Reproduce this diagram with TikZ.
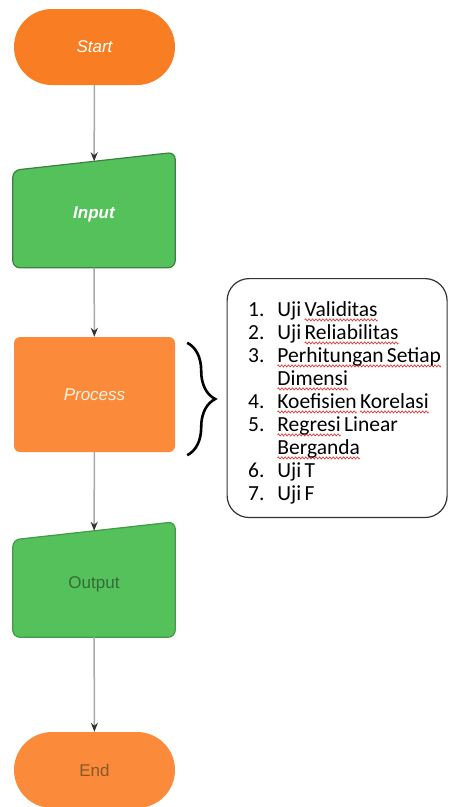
\documentclass[tikz,border=0pt]{standalone}
\usepackage{fontspec}
\setmainfont{Liberation Sans}
\newfontfamily\listfont{Carlito}
\usetikzlibrary{shapes.misc,arrows.meta,backgrounds,decorations.pathreplacing,positioning}
\definecolor{termorange}{HTML}{F97D22}
\definecolor{procorange}{HTML}{FB8B3A}
\definecolor{iogreen}{HTML}{54C15A}
\definecolor{ioborder}{HTML}{3E7F42}
\definecolor{linegray}{HTML}{A8A8A8}
\definecolor{arrowdark}{HTML}{333333}
\definecolor{spellred}{HTML}{E23A3A}
\newcommand{\labelfont}{\fontsize{17}{20}\selectfont}
% red wavy underline
\newsavebox{\wavebox}
\newsavebox{\spellbox}
\newcommand{\spell}[1]{\leavevmode\sbox{\spellbox}{#1}%
  \rlap{\raisebox{-3.8pt}[0pt][0pt]{\hbox to\wd\spellbox{\xleaders\copy\wavebox\hfill}}}\usebox{\spellbox}}

\begin{document}
\sbox{\wavebox}{\begin{pgfpicture}
  \pgfpathrectanglecorners{\pgfpointorigin}{\pgfpoint{3.4pt}{0pt}}\pgfusepath{use as bounding box}
  \pgfpathmoveto{\pgfpointorigin}
  \pgfpathcurveto{\pgfpoint{0.85pt}{1.4pt}}{\pgfpoint{0.85pt}{1.4pt}}{\pgfpoint{1.7pt}{0pt}}
  \pgfpathcurveto{\pgfpoint{2.55pt}{-1.4pt}}{\pgfpoint{2.55pt}{-1.4pt}}{\pgfpoint{3.4pt}{0pt}}
  \pgfsetstrokecolor{spellred}\pgfsetlinewidth{0.7pt}\pgfusepath{stroke}
\end{pgfpicture}}%
\begin{tikzpicture}[x=1pt,y=-1pt,
  terminal/.style={rounded rectangle,fill=#1,minimum width=161pt,minimum height=76pt,inner sep=0pt,font=\labelfont},
  iobox/.style={rectangle,minimum width=162pt,minimum height=106pt,inner sep=0pt,font=\labelfont},
  ioshape/.style={fill=iogreen,draw=ioborder,line width=1.2pt,rounded corners=7pt},
  procbox/.style={rectangle,rounded corners=6pt,fill=procorange,minimum width=161pt,minimum height=115pt,inner sep=0pt,font=\labelfont},
  listbox/.style={rectangle,rounded corners=22pt,draw=black!80,line width=1.2pt,text width=196pt,inner xsep=12pt,inner ysep=10.5pt,align=left},
  flow/.style={draw=linegray,line width=1.5pt,-{Stealth[length=9pt,width=7pt,color=arrowdark]}}]
\useasboundingbox (0,0) rectangle (449,807);
% Define all the nodes.
% Start
\node[terminal=termorange,text=white] (start) at (94.5,47) {\itshape Start};
% Input
\node[iobox,text=white] (input) at (94,214.5) {\bfseries\itshape Input};
% Process
\node[procbox,text=orange!10] (process) at (94.5,394.5) {\itshape Process};
% Steps of the process
\node[listbox,anchor=north west] (steps) at (226.5,278) {%
\listfont\fontsize{21.5}{23}\selectfont
\renewcommand{\arraystretch}{1}%
\begin{tabular}{@{\hspace{9pt}}l@{\hspace{13pt}}l@{}}
1. & Uji \spell{Validitas}\rule{0pt}{27pt}\\
2. & Uji \spell{Reliabilitas}\\
3. & \spell{Perhitungan Setiap}\\
   & \spell{Dimensi}\\
4. & \spell{Koefisien} \spell{Korelasi}\\
5. & \spell{Regresi} Linear\\
   & \spell{Berganda}\\
6. & Uji T\\
7. & Uji F
\end{tabular}};
% Output
\node[iobox,text=ioborder!85!black] (output) at (94,584) {Output};
% End
\node[terminal=procorange,text=brown!70!black] (end) at (94.5,770) {End};
% Input and output shapes
\begin{scope}[on background layer]
\draw[ioshape] ([yshift=-9pt]input.north west) -- ([yshift=9pt]input.north east) -- (input.south east) -- (input.south west) -- cycle;
\draw[ioshape,draw=iogreen!80!black] ([yshift=-9pt]output.north west) -- ([yshift=9pt]output.north east) -- (output.south east) -- (output.south west) -- cycle;
\end{scope}
% Brace
\draw[line width=2.6pt,decorate,decoration={brace,amplitude=28pt}] ([shift={(12pt,-6pt)}]process.north east) -- ([shift={(12pt,-3pt)}]process.south east);
% Draw the arrows
\draw[flow] (start) -- (input);
\draw[flow] (input) -- (process);
\draw[flow] (process) -- (output);
\draw[flow] (output) -- (end);
\end{tikzpicture}
\end{document}
